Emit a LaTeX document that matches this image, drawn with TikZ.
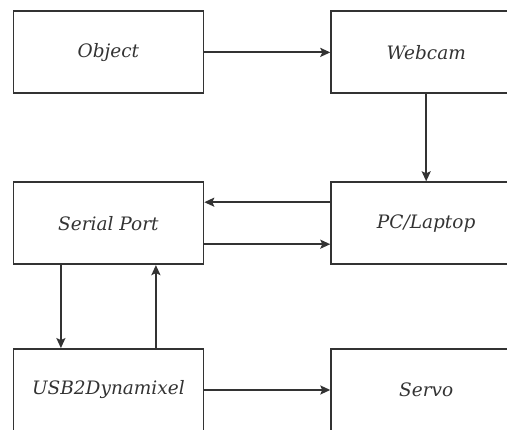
\documentclass[tikz,border=0pt]{standalone}
\usepackage{fontspec}
\setmainfont{DejaVu Serif}
\usetikzlibrary{arrows.meta, positioning}

\begin{document}
\begin{tikzpicture}[
        x=1pt, y=1pt,
        >={Stealth[length=10pt, width=9pt, inset=2pt]},
        every node/.style={
            font=\fontsize{18.5}{22}\selectfont\itshape,
            text=black!80,
            align=center
        },
        bloco/.style={
            draw=black!80,
            line width=1.8pt,
            minimum width=190pt,
            minimum height=82pt,
            inner sep=0pt
        },
        seta/.style={
            ->,
            draw=black!80,
            line width=1.8pt
        }
    ]

    \useasboundingbox (0,0) rectangle (507,-430);
    \clip (0,0) rectangle (507,-430);

    \node[bloco, anchor=north west] (object) at (12.5,-10.5) {Object};

    \node[bloco, right=126pt of object] (webcam) {Webcam};

    \node[bloco, below=87pt of webcam] (pc) {PC/Laptop};

    \node[bloco, below=87pt of object] (serial) {Serial Port};

    \node[bloco, below=83pt of serial] (usb) {USB2Dynamixel};

    \node[bloco, below=83pt of pc] (servo) {Servo};

    \draw[seta] (object) -- (webcam);
    \draw[seta] (webcam) -- (pc);

    \draw[seta] ([yshift=21pt]pc.west) -- ([yshift=21pt]serial.east);
    \draw[seta] ([yshift=-21pt]serial.east) -- ([yshift=-21pt]pc.west);

    \draw[seta] ([xshift=-47.5pt]serial.south) -- ([xshift=-47.5pt]usb.north);
    \draw[seta] ([xshift=47.5pt]usb.north) -- ([xshift=47.5pt]serial.south);

    \draw[seta] (usb) -- (servo);

    \end{tikzpicture}
\end{document}
